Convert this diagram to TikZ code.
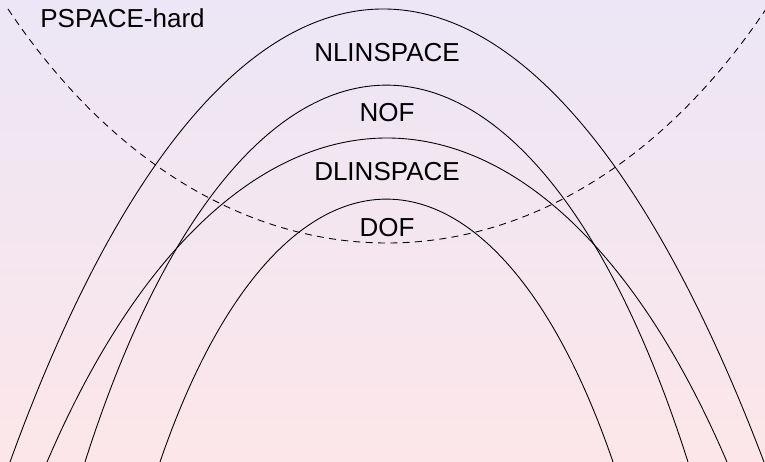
\documentclass[tikz,border=0pt]{standalone}
\usepackage{fontspec}
\setmainfont{Liberation Sans}
\usetikzlibrary{positioning}

\begin{document}
\begin{tikzpicture}[
  cls/.style={line width=0.5pt, black},
  hard/.style={line width=0.5pt, black, dash pattern=on 4pt off 3pt},
  lbl/.style={font=\fontsize{14.8}{17}\selectfont, inner sep=0pt}]

% background
\shade[top color={rgb,255:red,236;green,230;blue,246}, bottom color={rgb,255:red,252;green,230;blue,233}]
  (0,0) rectangle (15.3,9.24);
\useasboundingbox (0,0) rectangle (15.3,9.24);

% classes
\draw[cls] (0.20,0) .. controls (4.58,12.08) and (10.70,12.08) .. (15.28,0);
\draw[cls] (1.70,0) .. controls (4.90,10.05) and (10.56,10.05) .. (13.76,0);
\draw[cls] (0.94,0) .. controls (4.64,8.64) and (10.84,8.64) .. (14.54,0);
\draw[cls] (3.20,0) .. controls (5.60,7.01) and (9.86,7.01) .. (12.26,0);

% PSPACE-hard
\draw[hard] (0.16,9.06) .. controls (4.34,2.82) and (11.14,2.82) .. (15.32,9.06);

\node[lbl] (nlin) at (7.74,8.18) {NLINSPACE};
\node[lbl] (nof) at (7.74,6.98) {NOF};
\node[lbl] (dlin) at (7.74,5.80) {DLINSPACE};
\node[lbl] (dof) at (7.74,4.68) {DOF};
\node[lbl, anchor=west] (phard) at (0.80,8.88) {PSPACE-hard};

\end{tikzpicture}
\end{document}
